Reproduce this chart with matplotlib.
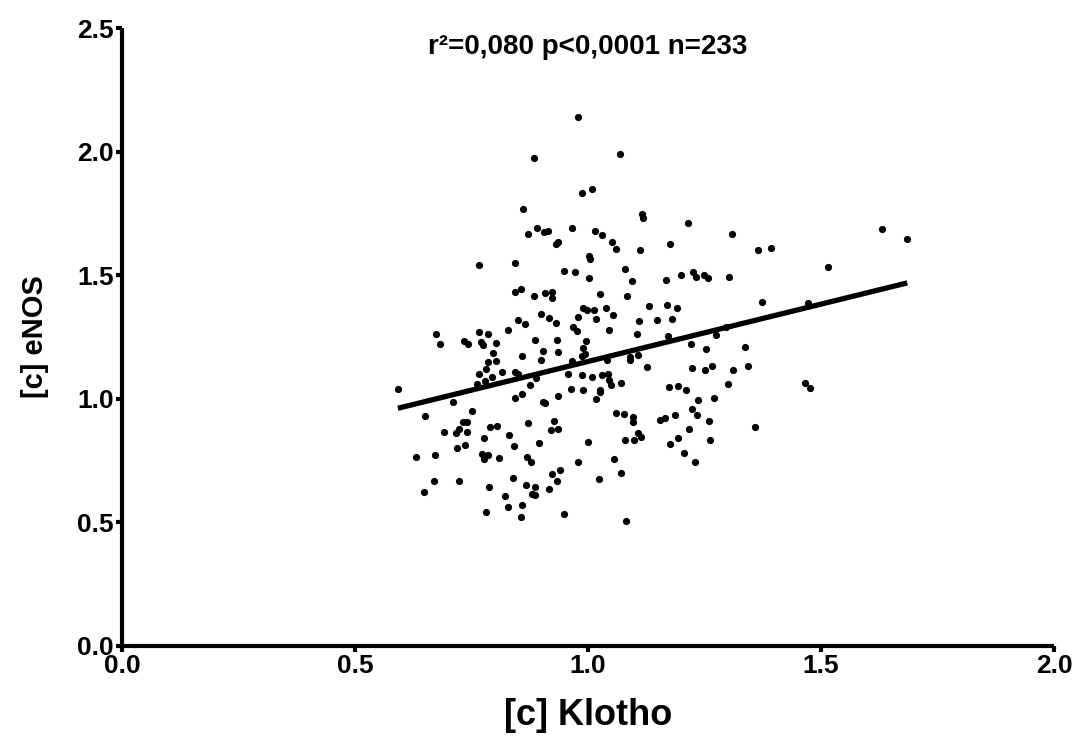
import numpy as np
import matplotlib
matplotlib.use("Agg")
import matplotlib.pyplot as plt

# Klotho / eNOS concentrations
klotho = [
    0.883, 0.861, 0.890, 0.872, 0.906, 0.915, 0.931, 0.936, 0.978, 1.069,
    0.987, 1.009, 1.115, 1.119, 1.215, 1.308, 0.966, 1.014, 1.031, 1.052,
    1.061, 1.112, 1.176, 1.630, 1.685, 1.364, 1.393,
    0.766, 0.843, 0.844, 0.857, 0.883, 0.908, 0.923, 0.923, 0.850, 0.864,
    0.898, 0.916, 0.932, 0.828, 0.766, 0.785, 0.673, 0.683, 0.734, 0.742,
    0.770, 0.775, 0.803, 0.887, 0.934, 0.797, 0.859, 0.903, 0.936, 0.900,
    0.785, 0.802, 0.782, 0.767, 0.815, 0.793, 0.843, 0.850, 0.889, 0.762,
    0.779, 0.876, 0.592,
    1.003, 1.004, 0.948, 0.971, 1.002, 1.079, 1.095, 1.167, 1.199, 1.225,
    1.231, 1.248, 1.258, 1.303, 1.026, 1.083, 0.989, 0.998, 1.013, 1.039,
    1.130, 1.170, 1.190, 0.979, 1.018, 1.054, 1.109, 1.148, 1.180, 0.967,
    0.976, 1.044, 1.105, 1.172, 1.274, 1.297, 0.996, 1.220, 0.989, 0.994,
    0.965, 0.988, 1.089, 1.091, 1.107, 1.040, 1.253, 1.127, 1.224, 1.250,
    1.267, 1.311, 0.957, 0.987, 1.009, 1.030, 1.042, 1.046, 1.049, 1.071,
    1.174, 1.194, 1.210, 1.300, 0.963, 0.989, 1.026,
    1.516, 1.373, 1.473, 1.337, 1.343, 1.466, 1.476,
    0.711, 0.650, 0.750, 0.843, 0.859, 0.903, 0.908, 0.935, 0.732, 0.741,
    0.691, 0.717, 0.723, 0.741, 0.790, 0.805, 0.872, 0.926, 0.921, 0.935,
    0.777, 0.830, 0.718, 0.737, 0.841, 0.895, 0.630, 0.671, 0.773, 0.786,
    0.777, 0.809, 0.870, 0.878, 0.940, 0.923, 0.933, 0.670, 0.724, 0.647,
    0.838, 0.788, 0.866, 0.887, 0.916, 0.822, 0.879, 0.886, 0.828, 0.859,
    0.782, 0.856,
    1.026, 1.017, 1.235, 1.270, 1.059, 1.077, 1.096, 1.096, 1.154, 1.166,
    1.186, 1.223, 1.234, 1.260, 1.217, 1.108, 1.113, 1.079, 1.099, 1.193,
    1.176, 1.262, 0.999, 1.206, 1.230, 1.056, 0.978, 1.071, 1.023, 0.948,
    1.082, 1.358,
]
enos = [
    1.974, 1.767, 1.692, 1.667, 1.676, 1.679, 1.626, 1.636, 2.141, 1.992,
    1.833, 1.849, 1.748, 1.730, 1.710, 1.665, 1.691, 1.679, 1.664, 1.636,
    1.606, 1.603, 1.627, 1.688, 1.648, 1.603, 1.609,
    1.540, 1.551, 1.432, 1.445, 1.416, 1.427, 1.432, 1.407, 1.319, 1.304,
    1.344, 1.326, 1.308, 1.280, 1.271, 1.262, 1.261, 1.220, 1.233, 1.223,
    1.231, 1.216, 1.227, 1.238, 1.239, 1.187, 1.173, 1.192, 1.191, 1.158,
    1.150, 1.152, 1.119, 1.099, 1.110, 1.087, 1.110, 1.100, 1.085, 1.060,
    1.072, 1.056, 1.041,
    1.578, 1.567, 1.518, 1.513, 1.489, 1.526, 1.475, 1.479, 1.501, 1.514,
    1.492, 1.502, 1.489, 1.493, 1.425, 1.416, 1.369, 1.358, 1.358, 1.369,
    1.374, 1.381, 1.367, 1.331, 1.322, 1.339, 1.316, 1.319, 1.322, 1.289,
    1.273, 1.277, 1.262, 1.254, 1.259, 1.290, 1.233, 1.220, 1.206, 1.181,
    1.153, 1.173, 1.170, 1.157, 1.177, 1.157, 1.200, 1.127, 1.126, 1.117,
    1.134, 1.115, 1.099, 1.096, 1.087, 1.096, 1.100, 1.077, 1.056, 1.065,
    1.048, 1.051, 1.037, 1.061, 1.040, 1.037, 1.037,
    1.534, 1.390, 1.389, 1.211, 1.134, 1.064, 1.042,
    0.988, 0.929, 0.949, 1.002, 1.018, 0.988, 0.984, 1.011, 0.905, 0.905,
    0.866, 0.860, 0.877, 0.867, 0.887, 0.889, 0.903, 0.909, 0.874, 0.879,
    0.841, 0.854, 0.802, 0.813, 0.809, 0.820, 0.766, 0.771, 0.777, 0.771,
    0.755, 0.759, 0.766, 0.743, 0.712, 0.695, 0.666, 0.666, 0.667, 0.624,
    0.681, 0.644, 0.650, 0.644, 0.636, 0.608, 0.615, 0.611, 0.562, 0.569,
    0.541, 0.523,
    1.028, 1.000, 0.994, 1.003, 0.943, 0.940, 0.925, 0.905, 0.915, 0.924,
    0.933, 0.958, 0.934, 0.911, 0.877, 0.860, 0.845, 0.832, 0.832, 0.841,
    0.818, 0.835, 0.824, 0.782, 0.746, 0.758, 0.746, 0.700, 0.677, 0.535,
    0.507, 0.887,
]

# regression line as drawn in the figure
SLOPE = 0.464
INTERCEPT = 0.687

TITLE = "r²=0,080 p<0,0001 n=233"
XLABEL = "[c] Klotho"
YLABEL = "[c] eNOS"
XTICKS = [0.0, 0.5, 1.0, 1.5, 2.0]
YTICKS = [0.0, 0.5, 1.0, 1.5, 2.0, 2.5]

plt.rcParams["font.family"] = ["Liberation Sans", "DejaVu Sans"]
plt.rcParams["font.weight"] = "bold"

fig = plt.figure(figsize=(10.76, 7.55), dpi=100)
ax = fig.add_axes([0.1134, 0.1444, 0.8662, 0.8185])

ax.plot(klotho, enos, "o", color="black", ms=5.2, mec="black", mew=0, zorder=3)

xl = np.array([min(klotho), max(klotho)])
ax.plot(xl, INTERCEPT + SLOPE * xl, color="black", lw=3.8,
        solid_capstyle="butt", zorder=4)

ax.set_xlim(0, 2.0)
ax.set_ylim(0, 2.5)
ax.set_xticks(XTICKS)
ax.set_yticks(YTICKS)
ax.set_xticklabels([f"{t:.1f}" for t in XTICKS], fontsize=19, fontweight="bold")
ax.set_yticklabels([f"{t:.1f}" for t in YTICKS], fontsize=19, fontweight="bold")
ax.tick_params(length=4, width=3, pad=2, color="black")

for side in ("top", "right"):
    ax.spines[side].set_visible(False)
for side in ("left", "bottom"):
    ax.spines[side].set_linewidth(3)
    ax.spines[side].set_capstyle("butt")

ax.text(0.5, 0.969, TITLE, transform=ax.transAxes, ha="center", va="center",
        fontsize=20, fontweight="bold")
ax.set_xlabel(XLABEL, fontsize=26, fontweight="bold", labelpad=14)
ax.set_ylabel(YLABEL, fontsize=21, fontweight="bold", labelpad=20)

fig.savefig("out.png", dpi=100)
